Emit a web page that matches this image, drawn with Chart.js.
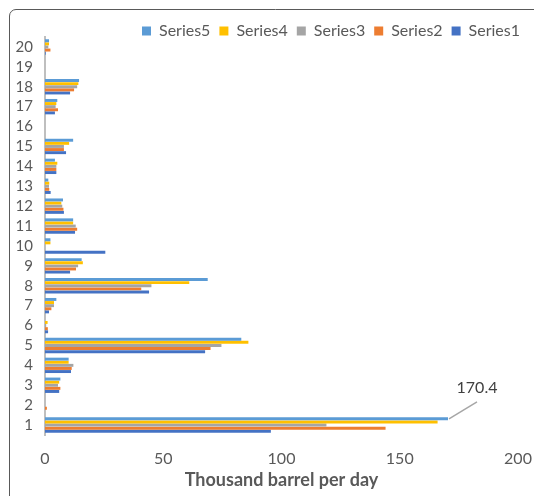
<!DOCTYPE html>
<html>
<head>
<meta charset="utf-8">
<script src="https://cdn.jsdelivr.net/npm/chart.js@4/dist/chart.umd.min.js"></script>
<style>
html,body{margin:0;padding:0;background:#fff;}
#wrap{width:534px;height:496px;position:relative;}
</style>
</head>
<body>
<div id="wrap"><canvas id="c" width="534" height="496"></canvas></div>
<script>
const categories = ['1','2','3','4','5','6','7','8','9','10','11','12','13','14','15','16','17','18','19','20'];
const series1 = [95.5, 0, 6, 11, 67.7, 1.3, 1.7, 44, 10.6, 25.5, 12.7, 8, 2.4, 4.8, 8.9, 0, 4.2, 10.6, 0, 0.3];
const series2 = [144, 0.8, 6.5, 11.3, 70, 1.2, 2.7, 40.7, 13.1, 0, 13.6, 7.8, 1.8, 4.8, 8, 0, 5.5, 12.3, 0, 2.3];
const series3 = [119, 0, 5.5, 12, 74.6, 0.5, 3.8, 45, 14, 0, 13, 7.3, 1.7, 4.8, 8, 0, 4.5, 13.6, 0, 1.4];
const series4 = [166, 0, 6, 10, 86, 1.1, 3.8, 61, 16, 2.3, 11.9, 6.9, 1.8, 5.2, 10.2, 0, 4.8, 14.1, 0, 1.7];
const series5 = [170.4, 0, 6.5, 10, 83, 0, 4.8, 68.8, 15.5, 2.3, 11.9, 7.6, 1.4, 4.2, 11.9, 0, 5.2, 14.4, 0, 1.7];
const seriesNames = ['Series5','Series4','Series3','Series2','Series1'];
const xTicks = [0, 50, 100, 150, 200];
const labelText = '170.4';

const colors = ['#5B9BD5','#FFC000','#A5A5A5','#ED7D31','#4472C4'];
const allSeries = [series5, series4, series3, series2, series1];

const frame = {
  id: 'frame',
  beforeDraw(chart) {
    const ctx = chart.ctx;
    ctx.save();
    ctx.fillStyle = '#fff';
    ctx.fillRect(0, 0, chart.width, chart.height);
    ctx.strokeStyle = '#595959';
    ctx.lineWidth = 1;
    ctx.beginPath();
    ctx.moveTo(9.5, 496);
    ctx.lineTo(9.5, 16);
    ctx.arcTo(9.5, 9.5, 16, 9.5, 6.5);
    ctx.lineTo(540, 9.5);
    ctx.stroke();
    ctx.restore();
  }
};

const legendShift = {
  id: 'legendShift',
  afterLayout(chart) {
    if (chart.legend) {
      chart.legend.top += 12;
      chart.legend.bottom += 12;
    }
  }
};

const callout = {
  id: 'callout',
  afterDatasetsDraw(chart) {
    const meta = chart.getDatasetMeta(0);
    const el = meta.data[0];
    if (!el) return;
    const ctx = chart.ctx;
    const x = el.x, y = el.y;
    ctx.save();
    ctx.strokeStyle = '#A6A6A6';
    ctx.lineWidth = 1.5;
    ctx.beginPath();
    ctx.moveTo(x + 1, y);
    ctx.lineTo(x + 29, y - 17);
    ctx.stroke();
    ctx.fillStyle = '#404040';
    ctx.font = '16px Lato, "Open Sans", sans-serif';
    ctx.textAlign = 'center';
    ctx.textBaseline = 'middle';
    ctx.fillText(labelText, x + 29, y - 31);
    ctx.restore();
  }
};

new Chart(document.getElementById('c'), {
  type: 'bar',
  data: {
    labels: categories,
    datasets: allSeries.map((d, i) => ({
      label: seriesNames[i],
      data: d,
      backgroundColor: colors[i],
      borderWidth: 0,
      categoryPercentage: 0.78,
      barPercentage: 0.95
    }))
  },
  options: {
    indexAxis: 'y',
    responsive: false,
    animation: false,
    layout: { padding: { top: 2, right: 5, left: 0, bottom: 0 } },
    plugins: {
      legend: {
        position: 'top',
        align: 'end',
        labels: {
          boxWidth: 9,
          boxHeight: 9,
          padding: 9,
          color: '#595959',
          font: { family: 'Lato, "Open Sans", sans-serif', size: 16 }
        }
      },
      tooltip: { enabled: false }
    },
    scales: {
      x: {
        type: 'linear',
        min: 0,
        max: 200,
        afterBuildTicks(s) { s.ticks = xTicks.map(v => ({ value: v })); },
        afterFit(s) { s.height = 61; s.paddingRight = 16; s.paddingLeft = 0; },
        grid: { display: false, drawTicks: false },
        border: { display: false },
        ticks: {
          padding: 14,
          color: '#595959',
          font: { family: 'Lato, "Open Sans", sans-serif', size: 16 }
        },
        title: {
          display: true,
          text: 'Thousand barrel per day',
          color: '#595959',
          font: { family: 'Lato, "Open Sans", sans-serif', size: 18, weight: 'bold' },
          padding: { top: 4, bottom: 5 }
        }
      },
      y: {
        reverse: true,
        afterFit(s) { s.width = 45; },
        grid: { display: false, drawTicks: false },
        border: { display: true, color: '#BFBFBF', width: 2 },
        ticks: {
          autoSkip: false,
          padding: 12,
          color: '#595959',
          font: { family: 'Lato, "Open Sans", sans-serif', size: 15 }
        }
      }
    }
  },
  plugins: [frame, legendShift, callout]
});
</script>
</body>
</html>
